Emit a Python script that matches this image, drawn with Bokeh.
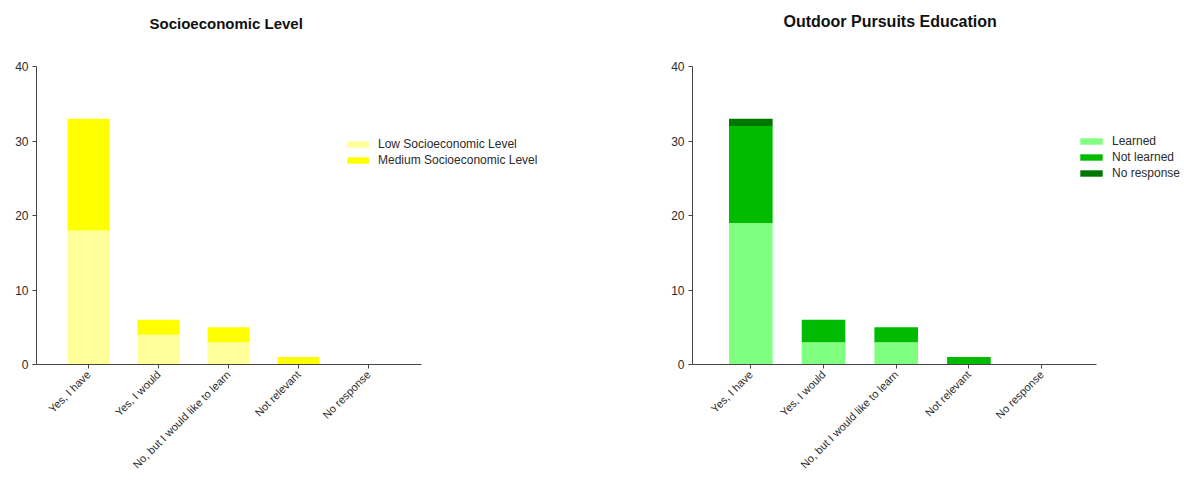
from math import pi
from bokeh.plotting import figure
from bokeh.layouts import row
from bokeh.models import ColumnDataSource, Legend, LegendItem, FixedTicker, Title
from bokeh.embed import file_html
from bokeh.resources import INLINE

categories = ["Yes, I have", "Yes, I would", "No, but I would like to learn",
              "Not relevant", "No response"]
socio_low = [18, 4, 3, 0, 0]
socio_medium = [15, 2, 2, 1, 0]
edu_learned = [19, 3, 3, 0, 0]
edu_not_learned = [13, 3, 2, 1, 0]
edu_no_response = [1, 0, 0, 0, 0]
y_ticks = [0, 10, 20, 30, 40]

FONT = "Liberation Sans"
AXIS_COLOR = "#444444"
TEXT_COLOR = "#2b2b2b"


def make_fig(title, title_size, title_offset, title_standoff, spacer_standoff,
             width, height, b_left, b_right, b_top, b_bottom,
             x_start, x_end, axis_start, axis_end,
             series, colors, labels, legend_xy, glyph_w):
    xs = list(range(len(categories)))
    data = {"x": xs}
    names = []
    for i, vals in enumerate(series):
        names.append("s%d" % i)
        data["s%d" % i] = vals
    src = ColumnDataSource(data)

    p = figure(width=width, height=height, x_range=(x_start, x_end), y_range=(0, 40),
               output_backend="svg", toolbar_location=None, tools="",
               min_border_left=b_left, min_border_right=b_right,
               min_border_top=b_top, min_border_bottom=b_bottom)
    p.outline_line_color = None
    p.background_fill_color = "white"
    p.border_fill_color = "white"
    p.xgrid.visible = False
    p.ygrid.visible = False

    rends = p.vbar_stack(names, x="x", width=0.6, color=colors, line_color=None,
                         source=src)

    # axes
    for ax in (p.xaxis[0], p.yaxis[0]):
        ax.axis_line_color = AXIS_COLOR
        ax.major_tick_line_color = AXIS_COLOR
        ax.major_tick_out = 4
        ax.major_tick_in = 0
        ax.minor_tick_line_color = None
        ax.major_label_text_font = FONT
        ax.major_label_text_color = TEXT_COLOR
    p.yaxis[0].ticker = FixedTicker(ticks=y_ticks)
    p.yaxis[0].bounds = (0, 40)
    p.yaxis[0].major_label_text_font_size = "12px"
    p.yaxis[0].major_label_standoff = 4
    p.xaxis[0].ticker = FixedTicker(ticks=xs)
    p.xaxis[0].major_label_overrides = {i: c for i, c in enumerate(categories)}
    p.xaxis[0].major_label_orientation = pi / 4
    p.xaxis[0].major_label_text_font_size = "11px"
    p.xaxis[0].major_label_standoff = 4
    p.xaxis[0].bounds = (axis_start, axis_end)

    legend = Legend(items=[LegendItem(label=l, renderers=[r]) for l, r in zip(labels, rends)],
                    location=legend_xy, orientation="vertical")
    legend.background_fill_alpha = 0
    legend.border_line_color = None
    legend.padding = 0
    legend.margin = 0
    legend.spacing = 0
    legend.glyph_width = glyph_w
    legend.glyph_height = 8
    legend.label_height = 16
    legend.label_standoff = 7
    legend.label_text_font = FONT
    legend.label_text_font_size = "12px"
    legend.label_text_color = TEXT_COLOR
    p.add_layout(legend, "center")

    # invisible spacer panel between frame and title
    spacer = Title(text=" ", text_font_size="1px", standoff=spacer_standoff,
                   text_color="white")
    p.add_layout(spacer, "above")
    t = Title(text=title, align="left", vertical_align="middle", offset=title_offset,
              standoff=title_standoff, text_font=FONT, text_font_size=title_size,
              text_font_style="bold", text_color="#111111")
    p.add_layout(t, "above")
    return p


p1 = make_fig("Socioeconomic Level", "15px", 113, 24, 19, 620, 480,
              36, 10, 66, 116, -0.743, 7.457, -0.743, 4.757,
              [socio_low, socio_medium], ["#FFFF99", "#FFFF00"],
              ["Low Socioeconomic Level", "Medium Socioeconomic Level"], (308, 196), 27)

p2 = make_fig("Outdoor Pursuits Education", "16px", 91, 15, 25, 564, 480,
              72, 0, 64, 115, -0.802, 5.965, -0.802, 4.757,
              [edu_learned, edu_not_learned, edu_no_response],
              ["#80FF80", "#00BB00", "#007700"],
              ["Learned", "Not learned", "No response"], (385, 183), 28)

layout = row(p1, p2, spacing=0)

open("out.html", "w").write(file_html(layout, INLINE))
